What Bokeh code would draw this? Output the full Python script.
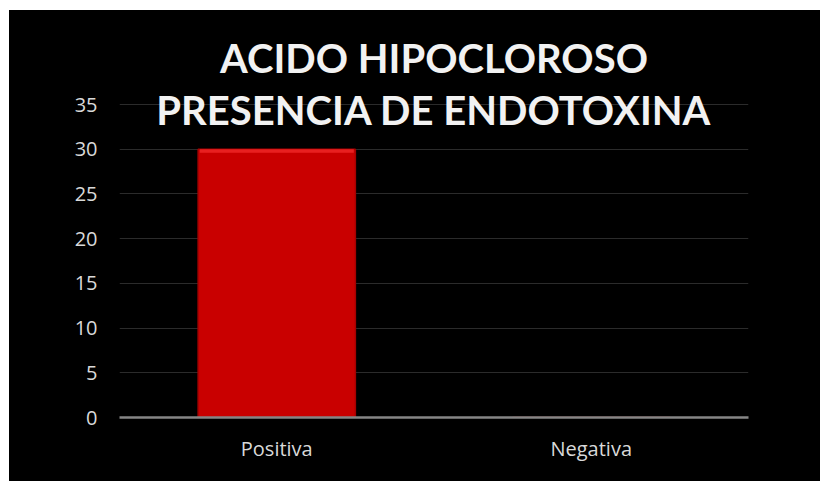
from bokeh.plotting import figure
from bokeh.models import Range1d, FixedTicker, Label, ColumnDataSource
from bokeh.embed import file_html
from bokeh.resources import INLINE

# ---- data ----
categories = ["Positiva", "Negativa"]
values = [30, 0]
y_ticks = [0, 5, 10, 15, 20, 25, 30, 35]
title_lines = ["ACIDO HIPOCLOROSO", "PRESENCIA DE ENDOTOXINA"]

FONT = "Open Sans"
TXT = "#d9d9d9"

# layout (pixels)
W, H = 811, 471
LEFT, RIGHT, BOTTOM = 110, 72, 64
AXIS_TOP_PX = 94          # where the value 35 sits, from the figure top
FRAME_TOP_PX = 20         # frame extends above so the title can overlap it
px_per_unit = (H - BOTTOM - AXIS_TOP_PX) / y_ticks[-1]
y_max = y_ticks[-1] + (AXIS_TOP_PX - FRAME_TOP_PX) / px_per_unit

src = ColumnDataSource(dict(cat=categories, val=values,
                            hl_bottom=[v - 0.4 if v > 0 else 0 for v in values]))

p = figure(x_range=categories, y_range=Range1d(0, y_max),
           width=W, height=H, output_backend="svg", toolbar_location=None,
           min_border_left=LEFT, min_border_right=RIGHT,
           min_border_top=FRAME_TOP_PX, min_border_bottom=BOTTOM)
p.background_fill_color = None
p.border_fill_color = "black"
p.outline_line_color = None

# bars
p.vbar(x="cat", top="val", bottom=0, width=0.5, source=src,
       fill_color="#c90000", line_color="#a80000", line_width=1.5)
p.vbar(x="cat", top="val", bottom="hl_bottom", width=0.49, source=src,
       fill_color="#e82020", line_color=None)

# grid
p.xgrid.grid_line_color = None
p.ygrid.grid_line_color = "#2b2b2b"
p.ygrid.grid_line_width = 1
p.ygrid.ticker = FixedTicker(ticks=y_ticks)

# y axis
p.yaxis.ticker = FixedTicker(ticks=y_ticks)
p.yaxis.axis_line_color = None
p.yaxis.major_tick_line_color = None
p.yaxis.minor_tick_line_color = None
p.yaxis.major_tick_out = 0
p.yaxis.major_tick_in = 0
p.yaxis.major_label_standoff = 22
p.yaxis.major_label_text_color = TXT
p.yaxis.major_label_text_font = FONT
p.yaxis.major_label_text_font_size = "20px"

# x axis
p.xaxis.axis_line_color = "#868686"
p.xaxis.axis_line_width = 2.5
p.xaxis.major_tick_line_color = None
p.xaxis.major_tick_out = 0
p.xaxis.major_tick_in = 0
p.xaxis.major_label_standoff = 17
p.xaxis.major_label_text_color = TXT
p.xaxis.major_label_text_font = FONT
p.xaxis.major_label_text_font_size = "20px"

# title (overlapping the plot area, as in the original)
line_px = [47, 99]   # centre of each title line, from the figure top
for txt, ypx in zip(title_lines, line_px):
    yy = y_ticks[-1] - (ypx - AXIS_TOP_PX) / px_per_unit
    p.add_layout(Label(x=1.0, y=yy, text=txt, text_align="center", text_baseline="middle",
                       text_color="#f2f2f2", text_font="Lato", text_font_style="bold",
                       text_font_size="40px"))

html = file_html(p, INLINE)
html = html.replace("</head>",
                    "<style>html{background:#000}"
                    "html,body{margin:0;padding:0;overflow:hidden}"
                    "body{border-top:10px solid #fff;border-left:9px solid #fff}</style></head>", 1)
open("out.html", "w").write(html)
